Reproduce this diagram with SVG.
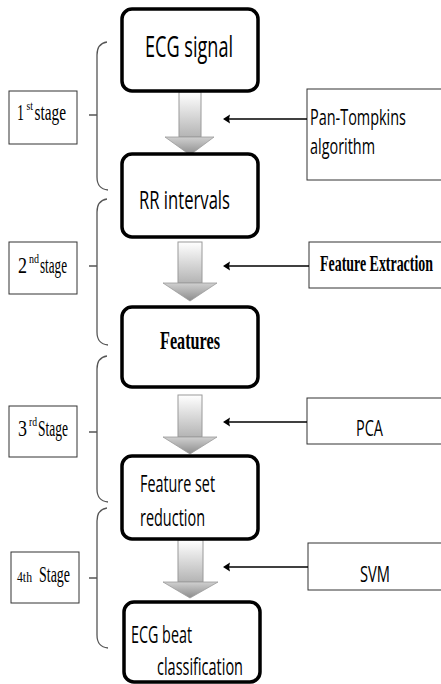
<svg xmlns="http://www.w3.org/2000/svg" width="441" height="684" viewBox="0 0 441 684">
<defs>
<linearGradient id="shaft" x1="0" y1="0" x2="0" y2="1">
<stop offset="0" stop-color="#ffffff"/>
<stop offset="1" stop-color="#b4b4b4"/>
</linearGradient>
<linearGradient id="head" x1="0" y1="0" x2="0" y2="1">
<stop offset="0" stop-color="#d0d0d0"/>
<stop offset="1" stop-color="#8c8c8c"/>
</linearGradient>
</defs>
<style>
.node{fill:#fff;stroke:#000;stroke-width:3.5}
.box{fill:#fff;stroke:#333;stroke-width:1}
.cal{font-family:"Open Sans","Noto Sans",sans-serif;fill:#000}
.tim{font-family:"Liberation Serif","Times New Roman",serif;fill:#000}
.brace{fill:none;stroke:#555;stroke-width:1.3}
.link{stroke:#000;stroke-width:1.3;fill:none}
.tip{fill:#000}
.shaft{fill:url(#shaft);stroke:#9a9a9a;stroke-width:1}
.head{fill:url(#head);stroke:#9a9a9a;stroke-width:0.8}
</style>
<rect width="441" height="684" fill="#fff"/>

<g id="gray-arrows">
<rect class="shaft" x="179" y="92" width="22" height="45"/>
<path class="head" d="M165,137 L214,137 L190,155 Z"/>
<rect class="shaft" x="178" y="242" width="24" height="41"/>
<path class="head" d="M163,283 L217,283 L190,301 Z"/>
<rect class="shaft" x="178" y="395" width="24" height="42"/>
<path class="head" d="M163,437 L217,437 L190,454 Z"/>
<rect class="shaft" x="178" y="540" width="25" height="42"/>
<path class="head" d="M163,582 L218,582 L190,598 Z"/>
</g>

<g id="n-ecg-signal">
<rect class="node" x="122" y="9" width="136" height="82" rx="10"/>
<text class="cal" x="145" y="57" font-size="30" textLength="88" lengthAdjust="spacingAndGlyphs">ECG signal</text>
</g>
<g id="n-rr-intervals">
<rect class="node" x="122" y="154" width="136" height="83" rx="10"/>
<text class="cal" x="139" y="209" font-size="26" textLength="91" lengthAdjust="spacingAndGlyphs">RR intervals</text>
</g>
<g id="n-features">
<rect class="node" x="122" y="307" width="136" height="80" rx="10"/>
<text class="tim" x="160" y="349" font-size="26" font-weight="bold" textLength="60" lengthAdjust="spacingAndGlyphs">Features</text>
</g>
<g id="n-feature-set-reduction">
<rect class="node" x="122" y="456" width="136" height="83" rx="10"/>
<text class="cal" x="140" y="492" font-size="24" textLength="75" lengthAdjust="spacingAndGlyphs">Feature set</text>
<text class="cal" x="140" y="526" font-size="24" textLength="65" lengthAdjust="spacingAndGlyphs">reduction</text>
</g>
<g id="n-ecg-beat-classification">
<rect class="node" x="124" y="602" width="136" height="80" rx="10"/>
<text class="cal" x="131" y="643" font-size="24" textLength="61" lengthAdjust="spacingAndGlyphs">ECG beat</text>
<text class="cal" x="157" y="675" font-size="24" textLength="86" lengthAdjust="spacingAndGlyphs">classification</text>
</g>

<g id="s-1st-stage">
<rect class="box" x="9" y="91" width="68" height="53"/>
<text class="tim" x="17" y="120" font-size="24" textLength="7" lengthAdjust="spacingAndGlyphs">1</text>
<text class="tim" x="26.5" y="110" font-size="12" textLength="6.5" lengthAdjust="spacingAndGlyphs">st</text>
<text class="tim" x="34.5" y="120" font-size="24" textLength="31.5" lengthAdjust="spacingAndGlyphs">stage</text>
</g>
<g id="s-2nd-stage">
<rect class="box" x="9" y="242" width="68" height="52"/>
<text class="tim" x="18" y="273" font-size="24" textLength="9" lengthAdjust="spacingAndGlyphs">2</text>
<text class="tim" x="29" y="263" font-size="12" textLength="10" lengthAdjust="spacingAndGlyphs">nd</text>
<text class="tim" x="40" y="273" font-size="24" textLength="27" lengthAdjust="spacingAndGlyphs">stage</text>
</g>
<g id="s-3rd-stage">
<rect class="box" x="9" y="406" width="68" height="51"/>
<text class="tim" x="18" y="436" font-size="24" textLength="9" lengthAdjust="spacingAndGlyphs">3</text>
<text class="tim" x="29" y="426" font-size="12" textLength="8" lengthAdjust="spacingAndGlyphs">rd</text>
<text class="tim" x="38" y="436" font-size="24" textLength="30" lengthAdjust="spacingAndGlyphs">Stage</text>
</g>
<g id="s-4th-stage">
<rect class="box" x="11" y="552" width="68" height="51"/>
<text class="tim" x="17" y="582" font-size="14" textLength="15" lengthAdjust="spacingAndGlyphs">4th</text>
<text class="tim" x="39" y="582" font-size="24" textLength="31" lengthAdjust="spacingAndGlyphs">Stage</text>
</g>

<g id="r-pan-tompkins">
<rect class="box" x="307" y="89" width="140" height="91"/>
<text class="cal" x="310" y="125" font-size="21" textLength="96" lengthAdjust="spacingAndGlyphs">Pan-Tompkins</text>
<text class="cal" x="310" y="154" font-size="21" textLength="65" lengthAdjust="spacingAndGlyphs">algorithm</text>
</g>
<g id="r-feature-extraction">
<rect class="box" x="309" y="242" width="140" height="46"/>
<text class="tim" x="320" y="271" font-size="23" font-weight="bold" textLength="113" lengthAdjust="spacingAndGlyphs">Feature Extraction</text>
</g>
<g id="r-pca">
<rect class="box" x="307" y="398" width="140" height="46"/>
<text class="cal" x="356" y="436" font-size="21" textLength="27" lengthAdjust="spacingAndGlyphs">PCA</text>
</g>
<g id="r-svm">
<rect class="box" x="308" y="543" width="140" height="47"/>
<text class="cal" x="360" y="582" font-size="21" textLength="30" lengthAdjust="spacingAndGlyphs">SVM</text>
</g>

<g id="braces">
<path class="brace" d="M107,42 C100,43 97,47 97,55 L97,177 C97,185 100,189 108,190 M97,115 L89,115"/>
<path class="brace" d="M107,199 C100,200 97,204 97,212 L97,332 C97,340 100,344 108,345 M97,266 L89,266"/>
<path class="brace" d="M107,356 C100,357 97,361 97,369 L97,489 C97,497 100,501 108,502 M97,432 L89,432"/>
<path class="brace" d="M107,508 C100,509 97,513 97,521 L97,635 C97,643 100,647 108,648 M97,578 L89,578"/>
</g>

<g id="connectors">
<line class="link" x1="307" y1="119" x2="229" y2="119"/>
<path class="tip" d="M223,119 L230,114.5 L229,119 L230,123.5 Z"/>
<line class="link" x1="309" y1="266" x2="229" y2="266"/>
<path class="tip" d="M223,266 L230,261.5 L229,266 L230,270.5 Z"/>
<line class="link" x1="307" y1="422" x2="229" y2="422"/>
<path class="tip" d="M223,422 L230,417.5 L229,422 L230,426.5 Z"/>
<line class="link" x1="308" y1="567" x2="229" y2="567"/>
<path class="tip" d="M223,567 L230,562.5 L229,567 L230,571.5 Z"/>
</g>
</svg>
